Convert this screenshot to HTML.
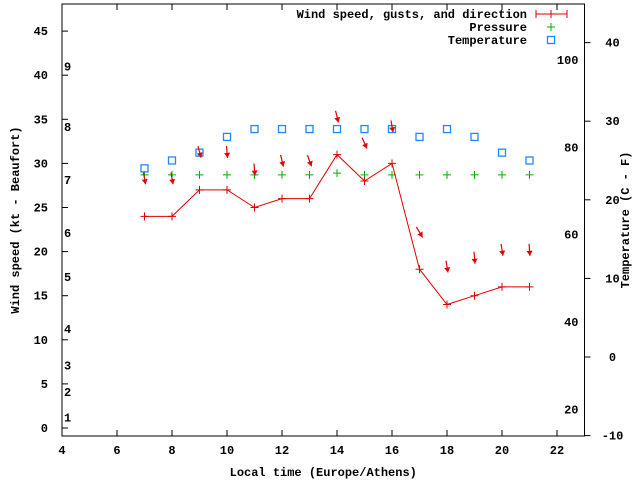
<!DOCTYPE html>
<html><head><meta charset="utf-8"><style>
body{margin:0;background:#fff}
svg text{font-family:"Liberation Mono",monospace;font-weight:bold;font-size:12px;fill:#000}
</style></head><body>
<svg id="c" width="640" height="480" viewBox="0 0 640 480" xmlns="http://www.w3.org/2000/svg"></svg>
<script>
const hours=[7,8,9,10,11,12,13,14,15,16,17,18,19,20,21];
const windKt=[24,24,27,27,25,26,26,31,28,30,18,14,15,16,16];
const gustKt=[28.3,28.3,31.3,31.3,29.3,30.3,30.3,35.3,32.3,34.2,22.2,18.3,19.3,20.2,20.2];
const dirDeg=[350,350,345,355,355,346,340,346,336,350,329,350,355,351,356];
const pressurePos=[28.7,28.7,28.7,28.7,28.7,28.7,28.7,28.9,28.7,28.7,28.7,28.7,28.7,28.7,28.7];
const tempC=[24,25,26,28,29,29,29,29,29,29,28,29,28,26,25];
const xTicks=[4,6,8,10,12,14,16,18,20,22];
const yTicks=[0,5,10,15,20,25,30,35,40,45];
const cTicks=[-10,0,10,20,30,40];
const fTicks=[20,40,60,80,100];
const bftLabels=[1,2,3,4,5,6,7,8,9];
const bftKt=[1.2,4.1,7.1,11.2,17.1,22.1,28.1,34.1,41];

const L=62,R=584.5,T=4,B=436;
const X=v=>L+(v-4)*27.5;
const Y=v=>428-v*8.82;
const YC=c=>357-c*7.86;
const YF=f=>YC((f-32)*5/9);
const svg=document.getElementById('c');
const NS='http://www.w3.org/2000/svg';
function mk(tag,attrs,parent){const e=document.createElementNS(NS,tag);for(const k in attrs)e.setAttribute(k,attrs[k]);(parent||svg).appendChild(e);return e;}

const frame=mk('rect',{x:L,y:T,width:R-L,height:B-T,fill:'none',stroke:'#000','stroke-width':1});



xTicks.forEach(v=>{
 const t=mk('line',{x1:X(v),x2:X(v),y1:B,y2:B-6,stroke:'#000'});
 
 
 const t2=mk('line',{x1:X(v),x2:X(v),y1:T,y2:T+6,stroke:'#000'});
 
 
 const l=mk('text',{x:X(v),y:B+18,'text-anchor':'middle'});l.textContent=v;
 
 
});
yTicks.forEach(v=>{
 const t=mk('line',{x1:L,x2:L+6,y1:Y(v),y2:Y(v),stroke:'#000'});
 
 
 const l=mk('text',{x:L-14,y:Y(v)+4,'text-anchor':'end'});l.textContent=v;
 
 
});
cTicks.forEach(v=>{
 const t=mk('line',{x1:R,x2:R+6,y1:YC(v),y2:YC(v),stroke:'#000'});
 
 
 const l=mk('text',{x:R+28,y:YC(v)+4,'text-anchor':'middle'});l.textContent=v;
 
 
});
fTicks.forEach(v=>{
 const l=mk('text',{x:R-6,y:YF(v)+4,'text-anchor':'end'});l.textContent=v;
 
 
});
bftLabels.forEach((v,i)=>{
 const l=mk('text',{x:64,y:Y(bftKt[i])+4});l.textContent=v;
 
 
});

const xt=mk('text',{x:(L+R)/2,y:476,'text-anchor':'middle'});xt.textContent='Local time (Europe/Athens)';


const yt=mk('text',{x:0,y:0,'text-anchor':'middle',transform:'translate(19,220) rotate(-90)'});yt.textContent='Wind speed (kt - Beaufort)';


const y2=mk('text',{x:0,y:0,'text-anchor':'middle',transform:'translate(629,220) rotate(-90)'});y2.textContent='Temperature (C - F)';



function cross(x,y,color,name){
 const g=mk('path',{d:`M${x-4},${y}H${x+4}M${x},${y-4}V${y+4}`,stroke:color,'stroke-width':1,fill:'none'});
 
 
}
// pressure
hours.forEach((h,i)=>cross(X(h),Y(pressurePos[i]),'#00b000','pressure-point'));
// temperature
hours.forEach((h,i)=>{
 const s=mk('rect',{x:X(h)-3.5,y:YC(tempC[i])-3.5,width:7,height:7,fill:'none',stroke:'#1e88ff','stroke-width':1.3});
 
 
});
// wind line
const pl=mk('polyline',{points:hours.map((h,i)=>X(h)+','+Y(windKt[i])).join(' '),fill:'none',stroke:'#e00000','stroke-width':1});


hours.forEach((h,i)=>cross(X(h),Y(windKt[i]),'#e00000','wind-speed-point'));
// direction arrows
hours.forEach((h,i)=>{
 const a=dirDeg[i]*Math.PI/180;
 const dx=-Math.sin(a),dy=Math.cos(a);
 const cx=X(h),cy=Y(gustKt[i]);
 const x1=cx-dx*6,y1=cy-dy*6,x2=cx+dx*6,y2=cy+dy*6;
 const px=-dy,py=dx;
 const g=mk('g',{});
 
 
 mk('line',{x1,y1,x2,y2,stroke:'#e00000','stroke-width':1.2},g);
 mk('polygon',{points:`${x2},${y2} ${x2-dx*5+px*3},${y2-dy*5+py*3} ${x2-dx*5-px*3},${y2-dy*5-py*3}`,fill:'#e00000'},g);
});

// legend
const lg=mk('g',{});


const lt=[['Wind speed, gusts, and direction',18],['Pressure',31],['Temperature',44]];
lt.forEach(([t,y])=>{const e=mk('text',{x:527,y:y,'text-anchor':'end'},lg);e.textContent=t;
 
 });
mk('path',{d:'M536,14H567M536,10V18M567,10V18M551,10V18',stroke:'#e00000',fill:'none'},lg);
mk('path',{d:'M547,27H555M551,23V31',stroke:'#00b000',fill:'none'},lg);
mk('rect',{x:547.5,y:36.5,width:7,height:7,fill:'none',stroke:'#1e88ff','stroke-width':1.3},lg);
</script>
</body></html>
